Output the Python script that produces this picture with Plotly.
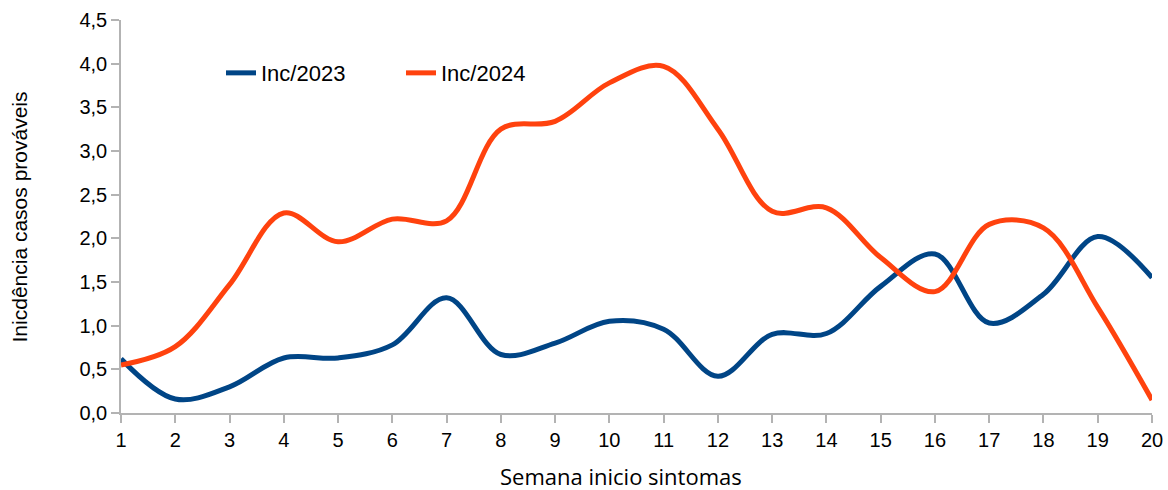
import plotly.graph_objects as go

weeks = list(range(1, 21))
inc_2023 = [0.62, 0.16, 0.30, 0.63, 0.63, 0.78, 1.32, 0.67, 0.80, 1.05,
            0.96, 0.42, 0.90, 0.91, 1.45, 1.82, 1.03, 1.36, 2.02, 1.55]
inc_2024 = [0.55, 0.76, 1.47, 2.29, 1.96, 2.22, 2.20, 3.25, 3.34, 3.78,
            3.97, 3.25, 2.31, 2.35, 1.78, 1.39, 2.16, 2.12, 1.21, 0.15]
y_ticks = [0, 0.5, 1.0, 1.5, 2.0, 2.5, 3.0, 3.5, 4.0, 4.5]

axis_gray = "#b3b3b3"

fig = go.Figure()
fig.add_trace(go.Scatter(x=weeks, y=inc_2023, mode="lines", name="Inc/2023",
                         line=dict(color="#004586", width=5, shape="spline", smoothing=1)))
fig.add_trace(go.Scatter(x=weeks, y=inc_2024, mode="lines", name="Inc/2024",
                         line=dict(color="#ff420e", width=5, shape="spline", smoothing=1)))

fig.update_layout(
    width=1168, height=490,
    margin=dict(l=121, r=16, t=20, b=77, autoexpand=False),
    paper_bgcolor="white", plot_bgcolor="white",
    separators=", ",
    font=dict(family="Liberation Sans, Arial, sans-serif", size=20, color="#000000"),
    showlegend=True,
    legend=dict(orientation="h", x=0.097, y=0.865, xanchor="left", yanchor="middle",
                font=dict(size=22), entrywidth=135, bgcolor="rgba(0,0,0,0)"),
    xaxis=dict(
        range=[1, 20], tickmode="array", tickvals=weeks, ticktext=[str(w) for w in weeks],
        showline=True, linecolor=axis_gray, linewidth=1.5,
        ticks="outside", ticklen=8, tickcolor=axis_gray, tickwidth=1.5,
        showgrid=False, zeroline=False, automargin=False,
    ),
    yaxis=dict(
        range=[0, 4.5], tickmode="array", tickvals=y_ticks, tickformat=".1f",
        showline=True, linecolor=axis_gray, linewidth=1.5,
        ticks="outside", ticklen=8, tickcolor=axis_gray, tickwidth=1.5,
        showgrid=False, zeroline=False, automargin=False,
    ),
    annotations=[
        dict(text="Semana inicio sintomas", xref="paper", yref="paper",
             x=0.485, y=-0.16, xanchor="center", yanchor="middle", showarrow=False,
             font=dict(family="Open Sans, sans-serif", size=22)),
        dict(text="Inicdência casos prováveis", xref="paper", yref="paper",
             x=-0.098, y=0.5, xanchor="center", yanchor="middle", showarrow=False,
             textangle=-90,
             font=dict(family="Liberation Sans Narrow, Liberation Sans, sans-serif", size=21)),
    ],
)

fig.write_html("out.html", config={"displayModeBar": False},
               post_script="document.body.style.margin='0';")
